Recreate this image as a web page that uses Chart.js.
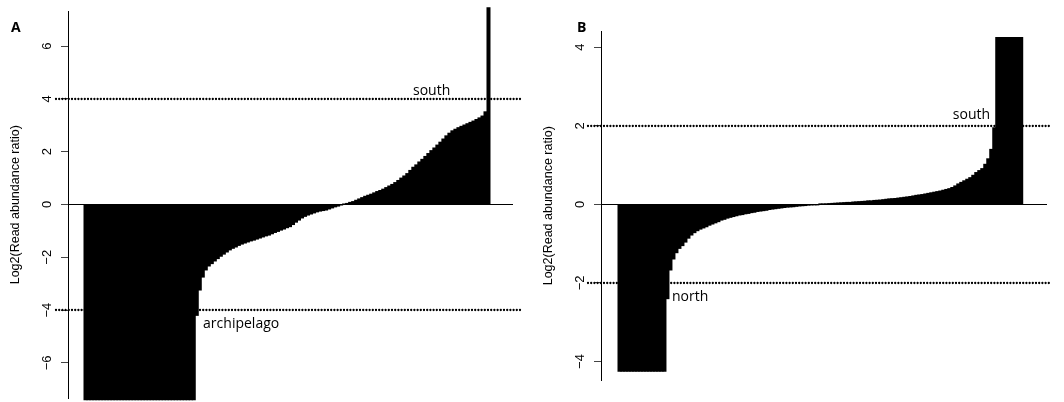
<!DOCTYPE html>
<html>
<head>
<meta charset="utf-8">
<script src="https://cdn.jsdelivr.net/npm/chart.js@4.4.1/dist/chart.umd.min.js"></script>
<style>
  body { margin: 0; background: #fff; }
  #wrap { position: relative; width: 1064px; height: 402px; }
  canvas { position: absolute; top: 0; }
</style>
</head>
<body>
<div id="wrap">
  <canvas id="chartA" width="532" height="402" style="left:0"></canvas>
  <canvas id="chartB" width="532" height="402" style="left:532px"></canvas>
</div>
<script>
// log2 read abundance ratios, sorted (one bar per contig group)
let ratioA = [
  -7.4, -7.4, -7.4, -7.4, -7.4, -7.4, -7.4, -7.4, -7.4, -7.4,
  -7.4, -7.4, -7.4, -7.4, -7.4, -7.4, -7.4, -7.4, -7.4, -7.4,
  -7.4, -7.4, -7.4, -7.4, -7.4, -7.4, -7.4, -7.4, -7.4, -7.4,
  -7.4, -7.4, -7.4, -7.4, -7.4, -7.4, -7.4,
  -4.2, -3.24, -2.75, -2.48, -2.33, -2.24, -2.14, -2.05, -1.96, -1.88,
  -1.80, -1.72, -1.66, -1.61, -1.55, -1.50, -1.46, -1.42, -1.38, -1.35,
  -1.31, -1.27, -1.23, -1.19, -1.16, -1.11, -1.06, -1.02, -0.97, -0.93,
  -0.88, -0.84, -0.76, -0.67, -0.59, -0.51, -0.45, -0.40, -0.36, -0.32,
  -0.28, -0.25, -0.23, -0.21, -0.17, -0.13, -0.09, -0.06, -0.02, 0.02,
  0.04, 0.08, 0.11, 0.16, 0.21, 0.26, 0.31, 0.35, 0.39, 0.44,
  0.49, 0.53, 0.58, 0.64, 0.70, 0.76, 0.83, 0.91, 1.00, 1.08,
  1.17, 1.29, 1.41, 1.50, 1.61, 1.71, 1.82, 1.93, 2.04, 2.14,
  2.25, 2.36, 2.48, 2.60, 2.70, 2.79, 2.85, 2.91, 2.96, 3.01,
  3.06, 3.11, 3.16, 3.22, 3.28, 3.35, 3.51, 7.45
];
let ratioB = [
  -4.25, -4.25, -4.25, -4.25, -4.25, -4.25, -4.25, -4.25, -4.25, -4.25,
  -4.25, -4.25, -4.25, -4.25, -4.25, -4.25,
  -2.40, -1.67, -1.39, -1.23, -1.12, -1.05, -0.96, -0.86, -0.78, -0.72,
  -0.67, -0.63, -0.60, -0.57, -0.53, -0.50, -0.47, -0.44, -0.40, -0.38,
  -0.35, -0.33, -0.31, -0.29, -0.27, -0.26, -0.24, -0.23, -0.21, -0.20,
  -0.18, -0.17, -0.16, -0.15, -0.13, -0.12, -0.11, -0.10, -0.09, -0.08,
  -0.07, -0.065, -0.06, -0.05, -0.04, -0.035, -0.03, -0.02, -0.015, -0.01,
  -0.005, 0.005, 0.01, 0.015, 0.02, 0.025, 0.03, 0.035, 0.04, 0.045,
  0.05, 0.05, 0.06, 0.065, 0.07, 0.075, 0.08, 0.09, 0.09, 0.10,
  0.105, 0.11, 0.12, 0.13, 0.14, 0.145, 0.15, 0.16, 0.17, 0.18,
  0.19, 0.20, 0.215, 0.23, 0.24, 0.25, 0.265, 0.28, 0.295, 0.31,
  0.325, 0.34, 0.36, 0.38, 0.40, 0.43, 0.47, 0.52, 0.56, 0.60,
  0.64, 0.68, 0.74, 0.81, 0.86, 0.91, 1.02, 1.16, 1.40, 1.95,
  4.25, 4.25, 4.25, 4.25, 4.25, 4.25, 4.25, 4.25, 4.25
];
let yTicksA = [-6, -4, -2, 0, 2, 4, 6];
let yTicksB = [-4, -2, 0, 2, 4];
let cutoffA = [-4, 4];
let cutoffB = [-2, 2];
let labelsA = [
  { text: "south", x: 108.9, y: 4.15 },
  { text: "archipelago", x: 39.1, y: -4.68 }
];
let labelsB = [
  { text: "south", x: 111.2, y: 2.17 },
  { text: "north", x: 17.5, y: -2.45 }
];

// draws rotated tick labels, axis title, dotted cut-offs, region names and panel letter
let decor = {
  id: "decor",
  afterDraw(chart, args, o) {
    let ctx = chart.ctx;
    let area = chart.chartArea;
    let x = chart.scales.x, y = chart.scales.y;
    ctx.save();
    ctx.fillStyle = "#000";
    ctx.strokeStyle = "#000";

    ctx.font = '13px "Liberation Sans", Arial, sans-serif';
    ctx.textAlign = "center";
    ctx.textBaseline = "middle";
    y.ticks.forEach(function (t) {
      ctx.save();
      ctx.translate(area.left - 20.5, y.getPixelForValue(t.value));
      ctx.rotate(-Math.PI / 2);
      ctx.fillText(String(t.value).replace("-", "\u2212"), 0, 0);
      ctx.restore();
    });
    ctx.font = '12.5px "Liberation Sans", Arial, sans-serif';
    ctx.save();
    ctx.translate(area.left - 52, (area.top + area.bottom) / 2);
    ctx.rotate(-Math.PI / 2);
    ctx.fillText("Log2(Read abundance ratio)", 0, 0);
    ctx.restore();

    ctx.lineWidth = 2.3;
    ctx.lineCap = "round";
    ctx.setLineDash([0, 3.2]);
    o.cutoffs.forEach(function (v) {
      let py = Math.round(y.getPixelForValue(v));
      ctx.beginPath();
      ctx.moveTo(area.left - o.padLeft, py);
      ctx.lineTo(area.right + o.padRight, py);
      ctx.stroke();
    });
    ctx.setLineDash([]);

    ctx.font = '14px "Open Sans", sans-serif';
    ctx.textAlign = "left";
    ctx.textBaseline = "alphabetic";
    o.labels.forEach(function (l) {
      ctx.fillText(l.text, x.getPixelForValue(l.x), y.getPixelForValue(l.y));
    });

    ctx.font = 'bold 14px "Open Sans", sans-serif';
    ctx.fillText(o.letter, o.letterX, o.letterY);
    ctx.restore();
  }
};

function makeChart(id, values, ticks, yMin, yMax, xMin, xMax, pad, width, extra) {
  return new Chart(document.getElementById(id), {
    type: "bar",
    data: {
      datasets: [{
        data: values.map((v, i) => ({ x: i, y: v })),
        backgroundColor: "#000",
        borderWidth: 0,
        inflateAmount: 0.5,
        barPercentage: 1,
        categoryPercentage: 1,
        clip: false
      }]
    },
    options: {
      responsive: false,
      animation: false,
      events: [],
      layout: { padding: pad },
      plugins: { legend: { display: false }, tooltip: { enabled: false }, decor: extra },
      scales: {
        x: { type: "linear", min: xMin, max: xMax, offset: false, grid: { offset: false }, display: false },
        y: {
          min: yMin,
          max: yMax,
          afterBuildTicks: (s) => { s.ticks = ticks.map((v) => ({ value: v })); },
          afterFit: (s) => { s.width = width; },
          ticks: { display: false },
          border: { display: true, color: "#000", width: 1 },
          grid: {
            drawOnChartArea: true,
            drawTicks: true,
            tickLength: 7,
            tickColor: "#444",
            color: (c) => (c.tick && c.tick.value === 0 ? "#000" : "rgba(0,0,0,0)"),
            lineWidth: 1
          }
        }
      }
    },
    plugins: [decor]
  });
}

makeChart("chartA", ratioA, yTicksA, -7.33, 7.31, -5.82, 142.15,
  { left: 0, right: 19, top: 11.5, bottom: 4 }, 68,
  { cutoffs: cutoffA, padLeft: 12, padRight: 8, labels: labelsA, letter: "A", letterX: 11, letterY: 32 });

makeChart("chartB", ratioB, yTicksB, -4.47, 4.40, -6.17, 142.6,
  { left: 0, right: 17, top: 31.5, bottom: 22 }, 69,
  { cutoffs: cutoffB, padLeft: 13, padRight: 5, labels: labelsB, letter: "B", letterX: 45, letterY: 32 });
</script>
</body>
</html>
